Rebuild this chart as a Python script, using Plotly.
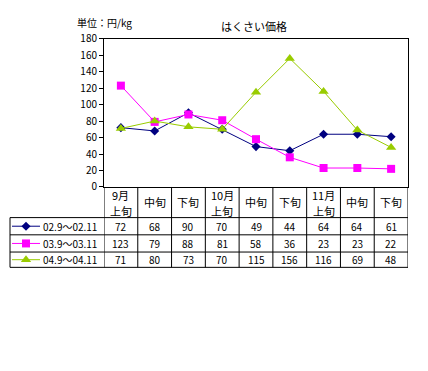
import plotly.graph_objects as go

categories = ["9月<br>上旬", "中旬", "下旬", "10月<br>上旬", "中旬", "下旬", "11月<br>上旬", "中旬", "下旬"]
series_names = ["02.9～02.11", "03.9～03.11", "04.9～04.11"]
s2002 = [72, 68, 90, 70, 49, 44, 64, 64, 61]
s2003 = [123, 79, 88, 81, 58, 36, 23, 23, 22]
s2004 = [71, 80, 73, 70, 115, 156, 116, 69, 48]
y_ticks = [0, 20, 40, 60, 80, 100, 120, 140, 160, 180]

W, H = 428, 371
colors = ["#000080", "#FF00FF", "#99CC00"]
symbols = ["diamond", "square", "triangle-up"]
msizes = [7, 8, 9]
FONT = "Noto Sans CJK JP"

def py(p):
    return 1 - p / H

def px(p):
    return p / W

L, R, T, B = 104, 408, 31, 186
rows_y = [218, 236, 254, 270]

fig = go.Figure()
xs = list(range(len(categories)))
for vals, name, c, s, ms in zip([s2002, s2003, s2004], series_names, colors, symbols, msizes):
    fig.add_trace(go.Scatter(x=xs, y=vals, mode="lines+markers", name=name,
                             line=dict(color=c, width=1),
                             marker=dict(symbol=s, size=ms, color=c),
                             showlegend=False, cliponaxis=False))

LX0, LX1 = 10, 104
for i, (c, s, ms) in enumerate(zip(colors, symbols, msizes)):
    yc = (rows_y[i] + rows_y[i + 1]) / 2
    fig.add_trace(go.Scatter(x=[12, 40], y=[yc, yc], mode="lines", line=dict(color=c, width=1),
                             xaxis="x2", yaxis="y2", showlegend=False, hoverinfo="skip"))
    fig.add_trace(go.Scatter(x=[26], y=[yc], mode="markers", marker=dict(symbol=s, size=ms, color=c),
                             xaxis="x2", yaxis="y2", showlegend=False, hoverinfo="skip",
                             cliponaxis=False))

shapes = []
line = dict(color="black", width=1)
for k in range(len(categories) + 1):
    shapes.append(dict(type="line", xref="x", yref="paper", x0=k - 0.5, x1=k - 0.5,
                       y0=py(B), y1=py(rows_y[-1]), line=line))
for yy in rows_y:
    shapes.append(dict(type="line", xref="paper", yref="paper", x0=px(10), x1=px(R),
                       y0=py(yy), y1=py(yy), line=line))
shapes.append(dict(type="line", xref="paper", yref="paper", x0=px(10), x1=px(10),
                   y0=py(rows_y[0]), y1=py(rows_y[-1]), line=line))

ann = []
hfont = dict(size=11, color="black", family=FONT)
for k, cat in enumerate(categories):
    parts = cat.split("<br>")
    if len(parts) == 1:
        ys = [(B + rows_y[0]) / 2]
    else:
        ys = [194.5, 211]
    for part, yy in zip(parts, ys):
        ann.append(dict(x=k, y=py(yy), xref="x", yref="paper", text=part,
                        showarrow=False, font=hfont, xanchor="center", yanchor="middle"))
for i, vals in enumerate([s2002, s2003, s2004]):
    yc = (rows_y[i] + rows_y[i + 1]) / 2
    for k, v in enumerate(vals):
        ann.append(dict(x=k, y=py(yc), xref="x", yref="paper", text=str(v), showarrow=False,
                        font=dict(size=10, color="black", family=FONT),
                        xanchor="center", yanchor="middle"))
    ann.append(dict(x=px(41), y=py(yc), xref="paper", yref="paper", text=series_names[i],
                    showarrow=False, font=dict(size=10, color="black", family=FONT),
                    xanchor="left", yanchor="middle"))
ann.append(dict(x=px(254), y=py(18), xref="paper", yref="paper", text="はくさい価格", showarrow=False,
                font=dict(size=11, color="black", family=FONT), xanchor="center", yanchor="middle"))
ann.append(dict(x=px(75), y=py(14), xref="paper", yref="paper", text="単位：円/kg", showarrow=False,
                font=dict(size=10, color="black", family=FONT), xanchor="left", yanchor="middle"))

fig.update_layout(
    width=W, height=H, margin=dict(l=0, r=0, t=0, b=0),
    paper_bgcolor="white", plot_bgcolor="rgba(0,0,0,0)",
    xaxis=dict(domain=[px(L), px(R)], range=[-0.5, 8.5], showticklabels=False, showgrid=False,
               zeroline=False, showline=True, linecolor="black", linewidth=1, mirror=True,
               ticks="", fixedrange=True),
    yaxis=dict(domain=[py(B), py(T)], range=[0, 180], tickvals=y_ticks, showgrid=False,
               zeroline=False, showline=True, linecolor="black", linewidth=1, mirror=True,
               ticks="outside", ticklen=4, tickcolor="black",
               tickfont=dict(size=10, color="black", family=FONT)),
    xaxis2=dict(domain=[px(LX0), px(LX1)], range=[LX0, LX1], visible=False, anchor="y2"),
    yaxis2=dict(domain=[py(rows_y[-1]), py(rows_y[0])], range=[rows_y[-1], rows_y[0]],
                visible=False, anchor="x2"),
    shapes=shapes, annotations=ann,
)

fig.write_html("out.html", config={"displayModeBar": False},
               post_script="document.body.style.margin='0';")
